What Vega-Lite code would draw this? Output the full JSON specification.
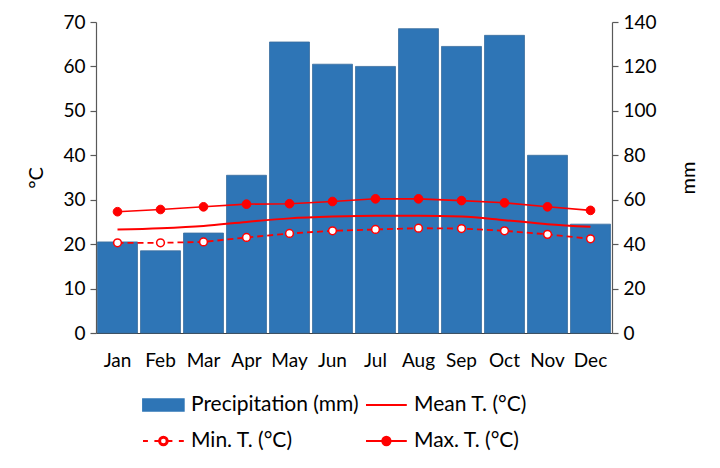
{
  "$schema": "https://vega.github.io/schema/vega-lite/v6.json",
  "width": 516,
  "height": 311,
  "autosize": {"type": "none"},
  "padding": {"left": 96, "top": 22, "right": 108, "bottom": 135},
  "background": "white",
  "config": {
    "view": {"stroke": null},
    "font": "Lato",
    "axis": {
      "grid": false,
      "labelFont": "Lato",
      "labelFontSize": 19,
      "labelColor": "#000000",
      "titleFont": "Lato",
      "titleFontSize": 20,
      "titleFontWeight": "normal",
      "titleColor": "#000000",
      "domainColor": "#595959",
      "tickColor": "#595959",
      "domainWidth": 1.2,
      "tickWidth": 1.2
    }
  },
  "data": {
    "values": [
      {"month": "Jan", "precip": 41, "tmean": 23.3, "tmin": 20.3, "tmax": 27.3},
      {"month": "Feb", "precip": 37, "tmean": 23.6, "tmin": 20.3, "tmax": 27.8},
      {"month": "Mar", "precip": 45, "tmean": 24.1, "tmin": 20.5, "tmax": 28.4},
      {"month": "Apr", "precip": 71, "tmean": 25.0, "tmin": 21.5, "tmax": 29.0},
      {"month": "May", "precip": 131, "tmean": 25.8, "tmin": 22.4, "tmax": 29.1},
      {"month": "Jun", "precip": 121, "tmean": 26.2, "tmin": 23.0, "tmax": 29.6},
      {"month": "Jul", "precip": 120, "tmean": 26.4, "tmin": 23.3, "tmax": 30.2},
      {"month": "Aug", "precip": 137, "tmean": 26.4, "tmin": 23.6, "tmax": 30.2},
      {"month": "Sep", "precip": 129, "tmean": 26.2, "tmin": 23.5, "tmax": 29.8},
      {"month": "Oct", "precip": 134, "tmean": 25.4, "tmin": 23.0, "tmax": 29.3},
      {"month": "Nov", "precip": 80, "tmean": 24.5, "tmin": 22.2, "tmax": 28.4},
      {"month": "Dec", "precip": 49, "tmean": 23.9, "tmin": 21.2, "tmax": 27.6}
    ]
  },
  "encoding": {
    "x": {
      "field": "month",
      "type": "ordinal",
      "sort": null,
      "scale": {"paddingInner": 0.07, "paddingOuter": 0.035},
      "axis": {
        "title": null,
        "ticks": false,
        "tickSize": 0,
        "labelPadding": 18,
        "labelAngle": 0,
        "domainColor": "#404040"
      }
    }
  },
  "layer": [
    {
      "mark": {"type": "bar", "stroke": "#3B6E9E", "strokeWidth": 0.8},
      "encoding": {
        "y": {
          "field": "precip",
          "type": "quantitative",
          "scale": {"domain": [0, 140], "nice": false},
          "axis": {
            "orient": "right",
            "title": "mm",
            "values": [0, 20, 40, 60, 80, 100, 120, 140],
            "tickSize": 6,
            "labelPadding": 5,
            "titleAngle": -90,
            "titleBaseline": "top",
            "titlePadding": 22
          }
        },
        "color": {
          "datum": "Precipitation (mm)",
          "type": "nominal",
          "scale": {
            "domain": ["Precipitation (mm)", "Mean T. (°C)", "Min. T. (°C)", "Max. T. (°C)"],
            "range": ["#2E75B6", "#FF0000", "#FF0000", "#FF0000"]
          },
          "legend": {
            "title": null,
            "orient": "none",
            "legendX": 49.4,
            "legendY": 365,
            "direction": "horizontal",
            "columns": 2,
            "padding": 0,
            "columnPadding": 3,
            "rowPadding": 8,
            "symbolSize": 1156,
            "symbolStrokeWidth": 1.8,
            "symbolOpacity": 1,
            "symbolType": {"expr": "datum.value === 'Precipitation (mm)' ? 'M-1.2,-0.35H1.2V0.35H-1.2Z' : datum.value === 'Mean T. (°C)' ? 'M-1.2,0H1.2' : datum.value === 'Min. T. (°C)' ? 'M-1.2,0H-0.91M-0.53,0H-0.26M0.26,0H0.53M0.91,0H1.2M0.26,0A0.26,0.26,0,1,1,-0.26,0A0.26,0.26,0,1,1,0.26,0ZM0.19,0A0.19,0.19,0,1,0,-0.19,0A0.19,0.19,0,1,0,0.19,0Z' : 'M-1.2,0H1.2M0.25,0A0.25,0.25,0,1,1,-0.25,0A0.25,0.25,0,1,1,0.25,0Z'"},
            "labelFont": "Lato",
            "labelFontSize": 21,
            "labelColor": "#000000",
            "labelOffset": 9.6,
            "labelLimit": 300
          }
        }
      }
    },
    {
      "layer": [
        {
          "mark": {"type": "line", "interpolate": "monotone", "strokeWidth": 2},
          "encoding": {
            "y": {
              "field": "tmean",
              "type": "quantitative",
              "scale": {"domain": [0, 70], "nice": false},
              "axis": {
                "orient": "left",
                "title": "°C",
                "values": [0, 10, 20, 30, 40, 50, 60, 70],
                "tickSize": 6,
                "labelPadding": 5,
                "titlePadding": 16
              }
            },
            "color": {"datum": "Mean T. (°C)", "type": "nominal"}
          }
        },
        {
          "mark": {"type": "line", "strokeWidth": 1.8, "strokeDash": [6, 4]},
          "encoding": {
            "y": {"field": "tmin", "type": "quantitative"},
            "color": {"datum": "Min. T. (°C)", "type": "nominal"}
          }
        },
        {
          "mark": {"type": "line", "strokeWidth": 1.6},
          "encoding": {
            "y": {"field": "tmax", "type": "quantitative"},
            "color": {"datum": "Max. T. (°C)", "type": "nominal"}
          }
        },
        {
          "mark": {"type": "point", "filled": true, "fill": "#FFFFFF", "stroke": "#FF0000", "strokeWidth": 1.5, "size": 60, "opacity": 1},
          "encoding": {
            "y": {"field": "tmin", "type": "quantitative"}
          }
        },
        {
          "mark": {"type": "point", "filled": true, "fill": "#FF0000", "stroke": "#FF0000", "strokeWidth": 1, "size": 75, "opacity": 1},
          "encoding": {
            "y": {"field": "tmax", "type": "quantitative"}
          }
        }
      ]
    }
  ],
  "resolve": {"scale": {"y": "independent"}}
}
